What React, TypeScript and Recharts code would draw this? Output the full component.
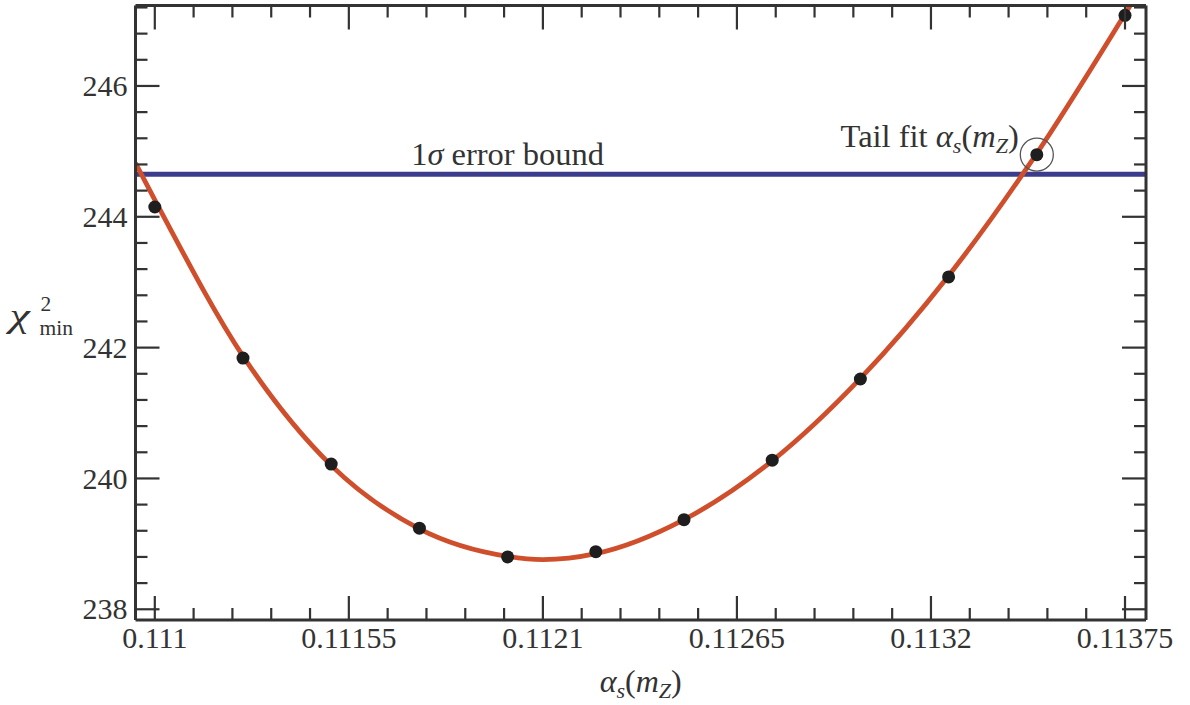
import React from 'react';
import {
  ComposedChart,
  Line,
  Scatter,
  XAxis,
  YAxis,
  ReferenceLine,
  ReferenceDot,
  Label,
} from 'recharts';

// Axis tick values and their printed labels
const xMajorTicks = [0.111, 0.11155, 0.1121, 0.11265, 0.1132, 0.11375];
const xTickLabels = ['0.111', '0.11155', '0.1121', '0.11265', '0.1132', '0.11375'];
const yMajorTicks = [238, 240, 242, 244, 246];
const yTickLabels = ['238', '240', '242', '244', '246'];

// Minimised chi^2 at each fixed alpha_s(m_Z)
const alphaPoints = [0.111, 0.11125, 0.1115, 0.11175, 0.112, 0.11225, 0.1125, 0.11275, 0.113, 0.11325, 0.1135, 0.11375];
const chi2Points = [244.15, 241.84, 240.22, 239.24, 238.8, 238.88, 239.37, 240.28, 241.52, 243.08, 244.95, 247.08];

// Smooth fit through the scan
const fitAlpha = [0.1109453, 0.111, 0.11125, 0.1115, 0.11175, 0.112, 0.1121, 0.11225, 0.1125, 0.11275, 0.113, 0.11325, 0.1135, 0.11375, 0.1138095];
const fitChi2 = [244.82, 244.26, 241.87, 240.2, 239.23, 238.81, 238.76, 238.85, 239.37, 240.27, 241.53, 243.1, 244.97, 247.1, 247.62];

// 1 sigma bound and the highlighted tail-fit point
const errorBound = 244.65;
const tailFitAlpha = 0.1135;
const tailFitChi2 = 244.95;

const X_DOMAIN: [number, number] = [0.1109453, 0.1138095];
const Y_DOMAIN: [number, number] = [237.836, 247.23];

const INK = '#333333';
const FONT = '"Liberation Serif", "Times New Roman", Times, serif';
const RED = '#cf4f2c';
const BLUE = '#3c3c8c';
const MAJOR_LEN = 24;
const MINOR_LEN = 12;
const TICK_FONT = 30;
const NOTE_FONT = 32.5;
const SUB_FONT = 22;

const pointData = alphaPoints.map((x, i) => ({ x, y: chi2Points[i] }));
const fitData = fitAlpha.map((x, i) => ({ x, y: fitChi2[i] }));

function withMinors(majors: number[], sub: number, domain: [number, number]) {
  const step = (majors[1] - majors[0]) / sub;
  const out: number[] = [];
  for (let k = -sub; k <= (majors.length - 1) * sub + sub; k++) {
    const v = Math.round((majors[0] + k * step) * 1e9) / 1e9;
    if (v >= domain[0] && v <= domain[1]) out.push(v);
  }
  return { ticks: out, step };
}

const xTickSet = withMinors(xMajorTicks, 5, X_DOMAIN);
const yTickSet = withMinors(yMajorTicks, 5, Y_DOMAIN);

type Side = 'bottom' | 'top' | 'left' | 'right';

// Inward-pointing frame ticks; majors are longer and (on bottom/left) labelled
function makeTick(side: Side, majors: number[], labels: string[] | null, step: number) {
  return (props: any) => {
    const { x, y, payload } = props;
    const v = payload.value;
    const idx = majors.findIndex((m) => Math.abs(m - v) < step * 1e-3);
    const len = idx >= 0 ? MAJOR_LEN : MINOR_LEN;
    let seg = { x1: x, y1: y, x2: x, y2: y };
    if (side === 'bottom') seg = { x1: x, y1: y, x2: x, y2: y - len };
    if (side === 'top') seg = { x1: x, y1: y, x2: x, y2: y + len };
    if (side === 'left') seg = { x1: x, y1: y, x2: x + len, y2: y };
    if (side === 'right') seg = { x1: x, y1: y, x2: x - len, y2: y };
    let text: React.ReactNode = null;
    if (labels && idx >= 0) {
      if (side === 'bottom') {
        text = (
          <text x={x} y={y + 28} textAnchor="middle" fontSize={TICK_FONT} fontFamily={FONT} fill={INK}>
            {labels[idx]}
          </text>
        );
      } else if (side === 'left') {
        text = (
          <text x={x - 8} y={y} dy="0.34em" textAnchor="end" fontSize={TICK_FONT} fontFamily={FONT} fill={INK}>
            {labels[idx]}
          </text>
        );
      }
    }
    return (
      <g>
        <line {...seg} stroke={INK} strokeWidth={2.2} />
        {text}
      </g>
    );
  };
}

const AlphaS = () => (
  <>
    <tspan fontStyle="italic">α</tspan>
    <tspan fontStyle="italic" fontSize={SUB_FONT} dy={6}>s</tspan>
    <tspan dy={-6}>(</tspan>
    <tspan fontStyle="italic">m</tspan>
    <tspan fontStyle="italic" fontSize={SUB_FONT} dy={6}>Z</tspan>
    <tspan dy={-6}>)</tspan>
  </>
);

const XTitle = (props: any) => {
  const vb = props.viewBox;
  const cx = vb.x + vb.width / 2;
  return (
    <text x={cx} y={vb.y + 72} textAnchor="middle" fontSize={32} fontFamily={FONT} fill={INK}>
      <AlphaS />
    </text>
  );
};

// chi^2_min with stacked superscript and subscript
const YTitle = (props: any) => {
  const vb = props.viewBox;
  const cy = vb.y + vb.height / 2;
  const left = vb.x - 125;
  return (
    <g fontFamily={FONT} fill={INK}>
      <text
        transform={`translate(${left}, ${cy + 14}) scale(1.35, 1)`}
        fontStyle="italic"
        fontSize={34}
      >
        χ
      </text>
      <text x={left + 31} y={cy - 2} fontSize={21.5}>2</text>
      <text x={left + 30} y={cy + 22} fontSize={21.5}>min</text>
    </g>
  );
};

const BoundLabel = (props: any) => {
  const { cx, cy } = props;
  return (
    <text x={cx} y={cy - 9} textAnchor="middle" fontSize={NOTE_FONT} fontFamily={FONT} fill={INK}>
      1<tspan fontStyle="italic">σ</tspan> error bound
    </text>
  );
};

const TailFitMark = (props: any) => {
  const { cx, cy } = props;
  return (
    <g>
      <circle cx={cx} cy={cy} r={16.5} fill="none" stroke="#555" strokeWidth={1.3} />
      <text x={cx - 18} y={cy - 8} textAnchor="end" fontSize={NOTE_FONT} fontFamily={FONT} fill={INK}>
        Tail fit <AlphaS />
      </text>
    </g>
  );
};

const PointShape = (props: any) => <circle cx={props.cx} cy={props.cy} r={6.5} fill="#1e1e1e" />;

export default function App() {
  return (
    <div style={{ position: 'absolute', left: 0, top: 0, background: '#fff' }}>
      <ComposedChart
        width={1190}
        height={705}
        margin={{ top: 4.5, right: 43, bottom: 84, left: 134.5 }}
      >
        <XAxis
          dataKey="x"
          type="number"
          domain={X_DOMAIN}
          allowDataOverflow
          ticks={xTickSet.ticks}
          interval={0}
          height={1}
          tickSize={0}
          tickMargin={0}
          tickLine={false}
          axisLine={{ stroke: INK, strokeWidth: 3 }}
          tick={makeTick('bottom', xMajorTicks, xTickLabels, xTickSet.step)}
        >
          <Label content={XTitle} />
        </XAxis>
        <XAxis
          xAxisId="top"
          orientation="top"
          dataKey="x"
          type="number"
          domain={X_DOMAIN}
          allowDataOverflow
          ticks={xTickSet.ticks}
          interval={0}
          height={1}
          tickSize={0}
          tickMargin={0}
          tickLine={false}
          axisLine={{ stroke: INK, strokeWidth: 3 }}
          tick={makeTick('top', xMajorTicks, null, xTickSet.step)}
        />
        <YAxis
          type="number"
          domain={Y_DOMAIN}
          allowDataOverflow
          ticks={yTickSet.ticks}
          interval={0}
          width={1}
          tickSize={0}
          tickMargin={0}
          tickLine={false}
          axisLine={{ stroke: INK, strokeWidth: 3 }}
          tick={makeTick('left', yMajorTicks, yTickLabels, yTickSet.step)}
        >
          <Label content={YTitle} />
        </YAxis>
        <YAxis
          yAxisId="right"
          orientation="right"
          type="number"
          domain={Y_DOMAIN}
          allowDataOverflow
          ticks={yTickSet.ticks}
          interval={0}
          width={1}
          tickSize={0}
          tickMargin={0}
          tickLine={false}
          axisLine={{ stroke: INK, strokeWidth: 3 }}
          tick={makeTick('right', yMajorTicks, null, yTickSet.step)}
        />
        <ReferenceLine y={errorBound} stroke={BLUE} strokeWidth={5} />
        <ReferenceDot x={0.112} y={errorBound} r={0} shape={BoundLabel} />
        <Scatter data={pointData} dataKey="y" shape={PointShape} isAnimationActive={false} />
        <Line
          data={fitData}
          dataKey="y"
          type="monotoneX"
          stroke={RED}
          strokeWidth={4.8}
          dot={false}
          activeDot={false}
          isAnimationActive={false}
        />
        <ReferenceDot x={tailFitAlpha} y={tailFitChi2} r={16.5} shape={TailFitMark} />
      </ComposedChart>
    </div>
  );
}
